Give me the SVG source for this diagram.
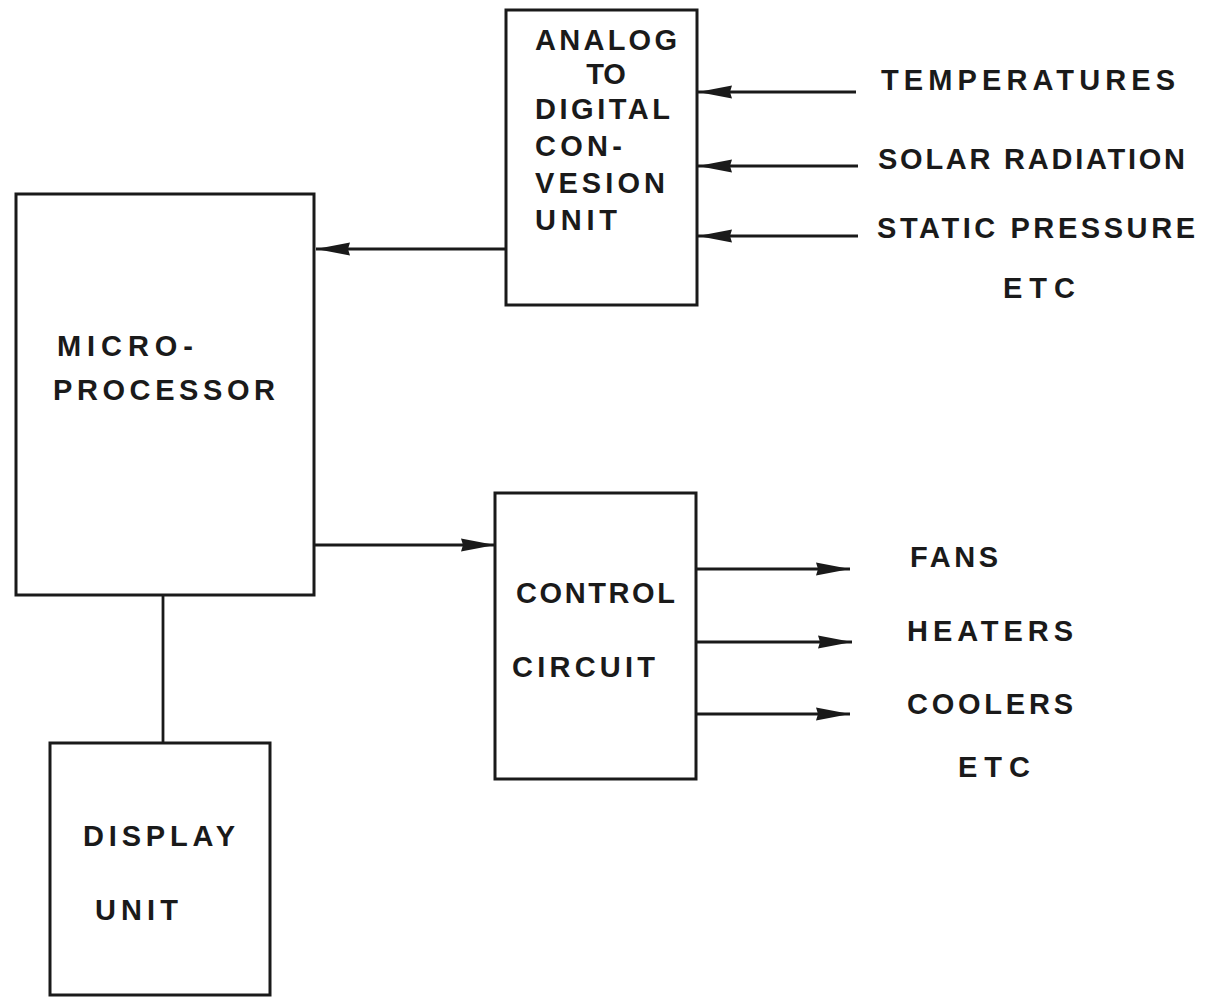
<svg xmlns="http://www.w3.org/2000/svg" width="1229" height="998" viewBox="0 0 1229 998">
<style>
.box{fill:#fff;stroke:#1a1a1a;stroke-width:3}
.ln{fill:none;stroke:#1a1a1a;stroke-width:2.8}
text{font-family:"Liberation Sans",Arial,sans-serif;font-weight:bold;font-size:29px;fill:#1a1a1a}
</style>
<defs>
<marker id="ah" viewBox="0 0 34 14" refX="34" refY="7" markerWidth="34" markerHeight="14" markerUnits="userSpaceOnUse" orient="auto">
<path d="M0,0.5 L34,7 L0,13.5 L2,7 z" fill="#1a1a1a"/>
</marker>
</defs>
<rect width="1229" height="998" fill="#fff"/>
<g id="connectors">
<line class="ln" x1="505" y1="249" x2="316" y2="249" marker-end="url(#ah)"/>
<line class="ln" x1="314" y1="545" x2="495" y2="545" marker-end="url(#ah)"/>
<line class="ln" x1="163" y1="595" x2="163" y2="743"/>
<line class="ln" x1="856" y1="92" x2="698" y2="92" marker-end="url(#ah)"/>
<line class="ln" x1="858" y1="166" x2="698" y2="166" marker-end="url(#ah)"/>
<line class="ln" x1="858" y1="236" x2="698" y2="236" marker-end="url(#ah)"/>
<line class="ln" x1="696" y1="569" x2="850" y2="569" marker-end="url(#ah)"/>
<line class="ln" x1="696" y1="642" x2="852" y2="642" marker-end="url(#ah)"/>
<line class="ln" x1="696" y1="714" x2="850" y2="714" marker-end="url(#ah)"/>
</g>
<g id="adc">
<rect class="box" x="506" y="10" width="191" height="295"/>
<text x="535" y="50" textLength="142" lengthAdjust="spacing">ANALOG</text>
<text x="606" y="84" text-anchor="middle">TO</text>
<text x="535" y="119" textLength="135" lengthAdjust="spacing">DIGITAL</text>
<text x="535" y="156" textLength="87" lengthAdjust="spacing">CON-</text>
<text x="535" y="193" textLength="130" lengthAdjust="spacing">VESION</text>
<text x="535" y="230" textLength="82" lengthAdjust="spacing">UNIT</text>
</g>
<g id="microprocessor">
<rect class="box" x="16" y="194" width="298" height="401"/>
<text x="57" y="356" textLength="136" lengthAdjust="spacing">MICRO-</text>
<text x="53" y="400" textLength="222" lengthAdjust="spacing">PROCESSOR</text>
</g>
<g id="control">
<rect class="box" x="495" y="493" width="201" height="286"/>
<text x="516" y="603" textLength="159" lengthAdjust="spacing">CONTROL</text>
<text x="512" y="677" textLength="143" lengthAdjust="spacing">CIRCUIT</text>
</g>
<g id="display">
<rect class="box" x="50" y="743" width="220" height="252"/>
<text x="83" y="846" textLength="152" lengthAdjust="spacing">DISPLAY</text>
<text x="95" y="920" textLength="83" lengthAdjust="spacing">UNIT</text>
</g>
<g id="inputs">
<text x="881" y="90" textLength="294" lengthAdjust="spacing">TEMPERATURES</text>
<text x="878" y="169" textLength="307" lengthAdjust="spacing">SOLAR RADIATION</text>
<text x="877" y="238" textLength="318" lengthAdjust="spacing">STATIC PRESSURE</text>
<text x="1003" y="298" textLength="72" lengthAdjust="spacing">ETC</text>
</g>
<g id="outputs">
<text x="910" y="567" textLength="88" lengthAdjust="spacing">FANS</text>
<text x="907" y="641" textLength="166" lengthAdjust="spacing">HEATERS</text>
<text x="907" y="714" textLength="166" lengthAdjust="spacing">COOLERS</text>
<text x="958" y="777" textLength="72" lengthAdjust="spacing">ETC</text>
</g>
</svg>
